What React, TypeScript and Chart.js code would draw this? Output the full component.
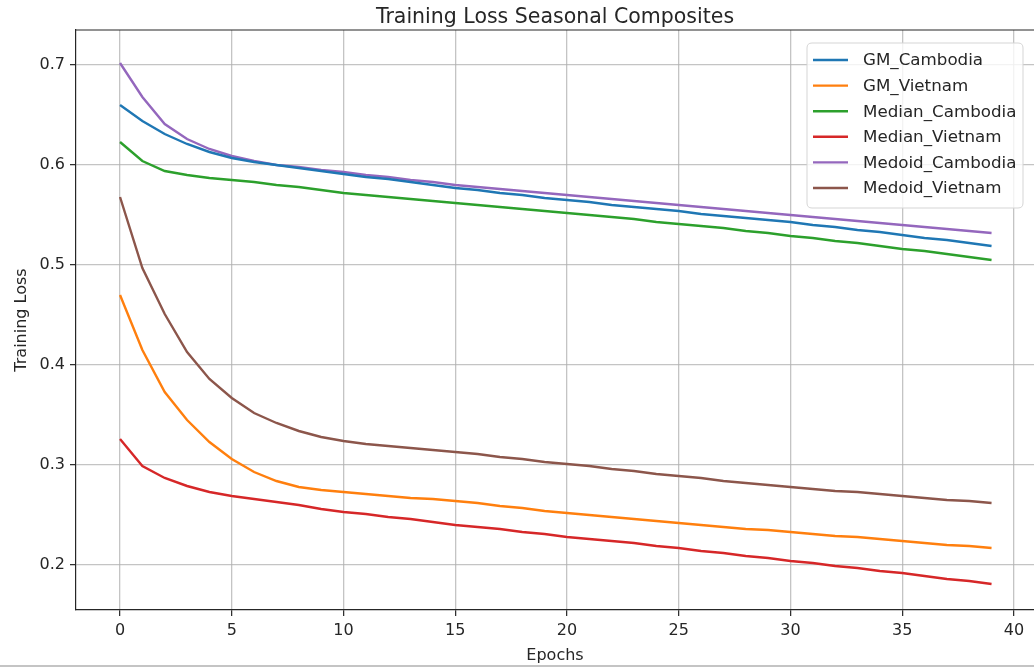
import React, { useEffect, useRef } from "react";
import { Chart, registerables } from "chart.js";

Chart.register(...registerables);

const EPOCHS = Array.from({ length: 40 }, (_, i) => i);

const GM_CAMBODIA = [
  0.660, 0.644, 0.631, 0.621, 0.613, 0.607, 0.603, 0.600, 0.597, 0.594,
  0.591, 0.588, 0.586, 0.583, 0.580, 0.577, 0.575, 0.572, 0.570, 0.567,
  0.565, 0.563, 0.560, 0.558, 0.556, 0.554, 0.551, 0.549, 0.547, 0.545,
  0.543, 0.540, 0.538, 0.535, 0.533, 0.530, 0.527, 0.525, 0.522, 0.519,
];
const GM_VIETNAM = [
  0.470, 0.415, 0.373, 0.345, 0.323, 0.306, 0.293, 0.284, 0.278, 0.275,
  0.273, 0.271, 0.269, 0.267, 0.266, 0.264, 0.262, 0.259, 0.257, 0.254,
  0.252, 0.250, 0.248, 0.246, 0.244, 0.242, 0.240, 0.238, 0.236, 0.235,
  0.233, 0.231, 0.229, 0.228, 0.226, 0.224, 0.222, 0.220, 0.219, 0.217,
];
const MEDIAN_CAMBODIA = [
  0.623, 0.604, 0.594, 0.590, 0.587, 0.585, 0.583, 0.580, 0.578, 0.575,
  0.572, 0.570, 0.568, 0.566, 0.564, 0.562, 0.560, 0.558, 0.556, 0.554,
  0.552, 0.550, 0.548, 0.546, 0.543, 0.541, 0.539, 0.537, 0.534, 0.532,
  0.529, 0.527, 0.524, 0.522, 0.519, 0.516, 0.514, 0.511, 0.508, 0.505,
];
const MEDIAN_VIETNAM = [
  0.326, 0.299, 0.287, 0.279, 0.273, 0.269, 0.266, 0.263, 0.260, 0.256,
  0.253, 0.251, 0.248, 0.246, 0.243, 0.240, 0.238, 0.236, 0.233, 0.231,
  0.228, 0.226, 0.224, 0.222, 0.219, 0.217, 0.214, 0.212, 0.209, 0.207,
  0.204, 0.202, 0.199, 0.197, 0.194, 0.192, 0.189, 0.186, 0.184, 0.181,
];
const MEDOID_CAMBODIA = [
  0.702, 0.668, 0.641, 0.626, 0.616, 0.609, 0.604, 0.600, 0.598, 0.595,
  0.593, 0.590, 0.588, 0.585, 0.583, 0.580, 0.578, 0.576, 0.574, 0.572,
  0.570, 0.568, 0.566, 0.564, 0.562, 0.560, 0.558, 0.556, 0.554, 0.552,
  0.550, 0.548, 0.546, 0.544, 0.542, 0.540, 0.538, 0.536, 0.534, 0.532,
];
const MEDOID_VIETNAM = [
  0.568, 0.497, 0.451, 0.413, 0.386, 0.367, 0.352, 0.342, 0.334, 0.328,
  0.324, 0.321, 0.319, 0.317, 0.315, 0.313, 0.311, 0.308, 0.306, 0.303,
  0.301, 0.299, 0.296, 0.294, 0.291, 0.289, 0.287, 0.284, 0.282, 0.280,
  0.278, 0.276, 0.274, 0.273, 0.271, 0.269, 0.267, 0.265, 0.264, 0.262,
];

const SERIES_NAMES = [
  "GM_Cambodia",
  "GM_Vietnam",
  "Median_Cambodia",
  "Median_Vietnam",
  "Medoid_Cambodia",
  "Medoid_Vietnam",
];
const SERIES_VALUES = [
  GM_CAMBODIA,
  GM_VIETNAM,
  MEDIAN_CAMBODIA,
  MEDIAN_VIETNAM,
  MEDOID_CAMBODIA,
  MEDOID_VIETNAM,
];
const COLORS = ["#1f77b4", "#ff7f0e", "#2ca02c", "#d62728", "#9467bd", "#8c564b"];

const X_TICKS = [0, 5, 10, 15, 20, 25, 30, 35, 40];
const Y_TICKS = [0.2, 0.3, 0.4, 0.5, 0.6, 0.7];

const TITLE = "Training Loss Seasonal Composites";
const X_LABEL = "Epochs";
const Y_LABEL = "Training Loss";

const FONT = "'DejaVu Sans', sans-serif";
const TEXT_COLOR = "#262626";
const GRID_COLOR = "rgba(176,176,176,0.75)";

const decorPlugin = {
  id: "decor",
  afterDraw(chart: any) {
    const { ctx, chartArea } = chart;
    ctx.save();
    // top spine
    ctx.strokeStyle = TEXT_COLOR;
    ctx.lineWidth = 1.2;
    ctx.beginPath();
    ctx.moveTo(chartArea.left, chartArea.top);
    ctx.lineTo(chartArea.right, chartArea.top);
    ctx.stroke();

    // title
    ctx.fillStyle = TEXT_COLOR;
    ctx.font = `20.5px ${FONT}`;
    ctx.textAlign = "center";
    ctx.textBaseline = "middle";
    ctx.fillText(TITLE, 555, 18);

    // legend
    const bx = 807, by = 43, bw = 216, bh = 165, r = 5;
    ctx.beginPath();
    ctx.moveTo(bx + r, by);
    ctx.lineTo(bx + bw - r, by);
    ctx.quadraticCurveTo(bx + bw, by, bx + bw, by + r);
    ctx.lineTo(bx + bw, by + bh - r);
    ctx.quadraticCurveTo(bx + bw, by + bh, bx + bw - r, by + bh);
    ctx.lineTo(bx + r, by + bh);
    ctx.quadraticCurveTo(bx, by + bh, bx, by + bh - r);
    ctx.lineTo(bx, by + r);
    ctx.quadraticCurveTo(bx, by, bx + r, by);
    ctx.closePath();
    ctx.fillStyle = "rgba(255,255,255,0.8)";
    ctx.fill();
    ctx.strokeStyle = "#d5d5d5";
    ctx.lineWidth = 1;
    ctx.stroke();

    ctx.font = `16.7px ${FONT}`;
    ctx.textAlign = "left";
    ctx.textBaseline = "middle";
    SERIES_NAMES.forEach((name, i) => {
      const y = 60 + i * 25.6;
      ctx.strokeStyle = COLORS[i];
      ctx.lineWidth = 2.4;
      ctx.beginPath();
      ctx.moveTo(813, y);
      ctx.lineTo(848, y);
      ctx.stroke();
      ctx.fillStyle = TEXT_COLOR;
      ctx.fillText(name, 863, y + 1);
    });

    // bottom image border
    ctx.strokeStyle = "#c4c4c4";
    ctx.lineWidth = 2;
    ctx.beginPath();
    ctx.moveTo(0, 666);
    ctx.lineTo(1034, 666);
    ctx.stroke();
    ctx.restore();
  },
};

export default function App() {
  const canvasRef = useRef<HTMLCanvasElement | null>(null);

  useEffect(() => {
    const canvas = canvasRef.current;
    if (!canvas) return;
    const datasets = SERIES_NAMES.map((name, i) => ({
      label: name,
      data: EPOCHS.map((e, j) => ({ x: e, y: SERIES_VALUES[i][j] })),
      borderColor: COLORS[i],
      backgroundColor: COLORS[i],
      borderWidth: 2.4,
      pointRadius: 0,
      tension: 0,
      fill: false,
    }));

    const chart = new Chart(canvas, {
      type: "line",
      data: { datasets },
      plugins: [decorPlugin],
      options: {
        animation: false,
        responsive: false,
        maintainAspectRatio: false,
        layout: { padding: { top: 30, left: 0, right: 0, bottom: 0 } },
        plugins: {
          legend: { display: false },
          title: { display: false },
          tooltip: { enabled: false },
        },
        scales: {
          x: {
            type: "linear",
            min: -1.97,
            max: 40.9,
            afterBuildTicks: (scale: any) => {
              scale.ticks = X_TICKS.map((v) => ({ value: v }));
            },
            afterFit: (scale: any) => {
              scale.height = 58;
            },
            ticks: {
              font: { family: FONT, size: 16 },
              color: TEXT_COLOR,
              padding: 5,
              maxRotation: 0,
              autoSkip: false,
              callback: (v: any) => String(v),
            },
            grid: {
              color: GRID_COLOR,
              lineWidth: 1.3,
              tickLength: 6,
              tickColor: TEXT_COLOR,
              tickWidth: 1.2,
            },
            border: { display: true, color: TEXT_COLOR, width: 1.2 },
            title: {
              display: true,
              text: X_LABEL,
              font: { family: FONT, size: 16 },
              color: TEXT_COLOR,
              padding: { top: 0, bottom: 3 },
            },
          },
          y: {
            type: "linear",
            min: 0.155,
            max: 0.735,
            afterBuildTicks: (scale: any) => {
              scale.ticks = Y_TICKS.map((v) => ({ value: v }));
            },
            afterFit: (scale: any) => {
              scale.width = 76;
            },
            ticks: {
              font: { family: FONT, size: 16 },
              color: TEXT_COLOR,
              padding: 5,
              autoSkip: false,
              callback: (v: any) => Number(v).toFixed(1),
            },
            grid: {
              color: GRID_COLOR,
              lineWidth: 1.3,
              tickLength: 6,
              tickColor: TEXT_COLOR,
              tickWidth: 1.2,
            },
            border: { display: true, color: TEXT_COLOR, width: 1.2 },
            title: {
              display: true,
              text: Y_LABEL,
              font: { family: FONT, size: 16 },
              color: TEXT_COLOR,
              padding: { top: 12, bottom: 0 },
            },
          },
        },
      },
    });
    return () => chart.destroy();
  }, []);

  return (
    <div style={{ position: "fixed", left: 0, top: 0, width: 1034, height: 668, background: "#fff" }}>
      <canvas ref={canvasRef} width={1034} height={668} style={{ display: "block", width: 1034, height: 668 }} />
    </div>
  );
}
